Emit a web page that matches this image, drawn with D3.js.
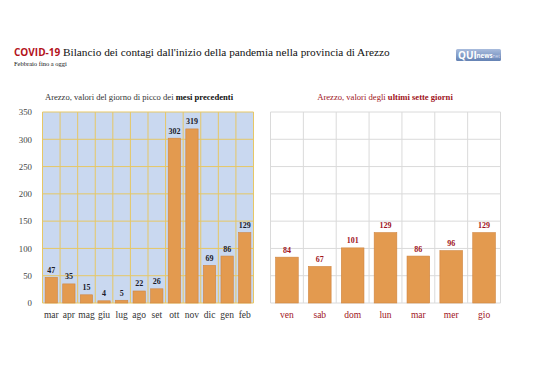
<!DOCTYPE html>
<html><head><meta charset="utf-8">
<script src="https://cdn.jsdelivr.net/npm/d3@7"></script>
<style>body{margin:0;background:#fff}svg{display:block}</style>
</head><body>
<script>
const months = ["mar","apr","mag","giu","lug","ago","set","ott","nov","dic","gen","feb"];
const monthValues = [47,35,15,4,5,22,26,302,319,69,86,129];
const days = ["ven","sab","dom","lun","mar","mer","gio"];
const dayValues = [84,67,101,129,86,96,129];
const yTicks = [0,50,100,150,200,250,300,350];

const W=538,H=380;
const svg=d3.select("body").append("svg").attr("width",W).attr("height",H);
svg.append("rect").attr("width",W).attr("height",H).attr("fill","#fff");
const serif="'Liberation Serif','DejaVu Serif',serif";

// Title
const t=svg.append("text").attr("x",14).attr("y",56).attr("font-family",serif).attr("font-size",11.3).attr("fill","#111");
t.append("tspan").attr("font-family","'Open Sans',sans-serif").attr("font-weight","bold").attr("fill","#B3121B").attr("font-size",10).text("COVID-19");
t.append("tspan").text(" Bilancio dei contagi dall'inizio della pandemia nella provincia di Arezzo");
svg.append("text").attr("x",14).attr("y",66).attr("font-family",serif).attr("font-size",6.5).attr("fill","#111").text("Febbraio fino a oggi");

// Logo
const lg=svg.append("g").attr("transform","translate(456,49)");
const grad=svg.append("defs").append("linearGradient").attr("id","lgg").attr("x1",0).attr("y1",0).attr("x2",0).attr("y2",1);
grad.append("stop").attr("offset","0%").attr("stop-color","#A9BCDD");
grad.append("stop").attr("offset","100%").attr("stop-color","#6482B4");
lg.append("rect").attr("width",45).attr("height",12).attr("rx",1.5).attr("fill","url(#lgg)");
lg.append("text").attr("x",2).attr("y",10).attr("font-family","'Open Sans',sans-serif").attr("font-weight","bold").attr("font-size",10).attr("fill","#fff").text("QUI");
lg.append("text").attr("x",20.5).attr("y",9.3).attr("font-family","'Open Sans',sans-serif").attr("font-weight","bold").attr("font-size",6.2).attr("fill","#fff").text("news");
lg.append("text").attr("x",36.5).attr("y",9.3).attr("font-family","'Open Sans',sans-serif").attr("font-size",5).attr("fill","#d5def0").text("net");

const y=d3.scaleLinear().domain([0,350]).range([303,112]);

// Left chart
const x1=d3.scaleBand().domain(months).range([42.5,253.5]).paddingInner(0.3).paddingOuter(0.15);
const L=svg.append("g");
L.append("rect").attr("x",42.5).attr("y",y(350)).attr("width",211).attr("height",y(0)-y(350)).attr("fill","#C9D8F0");
const step1=x1.step();
L.selectAll("line.v").data(d3.range(months.length+1)).join("line")
 .attr("x1",i=>42.5+i*step1).attr("x2",i=>42.5+i*step1).attr("y1",y(350)).attr("y2",y(0))
 .attr("stroke","#E6C766").attr("stroke-width",1);
L.selectAll("line.h").data(yTicks).join("line")
 .attr("x1",42.5).attr("x2",253.5).attr("y1",d=>y(d)).attr("y2",d=>y(d))
 .attr("stroke","#E6C766").attr("stroke-width",1);
L.selectAll("rect.bar").data(monthValues).join("rect")
 .attr("x",(d,i)=>x1(months[i])).attr("width",x1.bandwidth())
 .attr("y",d=>y(d)).attr("height",d=>y(0)-y(d))
 .attr("fill","#E39A4F").attr("stroke","#CF8540").attr("stroke-width",0.6);
L.selectAll("text.val").data(monthValues).join("text")
 .attr("x",(d,i)=>x1(months[i])+x1.bandwidth()/2).attr("y",d=>y(d)-4.5)
 .attr("text-anchor","middle").attr("font-family",serif).attr("font-weight","bold").attr("font-size",8).attr("fill","#1b1b2a").text(d=>d);
const ya=L.append("g").attr("transform","translate(32,0)").call(d3.axisLeft(y).tickValues(yTicks).tickSize(0));
ya.select(".domain").remove();
ya.selectAll("text").attr("font-family",serif).attr("font-size",8.8).attr("fill","#444").attr("x",0).attr("dy","0.32em");
const xa=L.append("g").attr("transform","translate(0,303)").call(d3.axisBottom(x1).tickSize(0));
xa.select(".domain").remove();
xa.selectAll("text").attr("font-family",serif).attr("font-size",9.5).attr("fill","#333").attr("y",8);
const lt=L.append("text").attr("x",139).attr("y",100).attr("text-anchor","middle").attr("font-family",serif).attr("font-size",8.6).attr("fill","#333");
lt.append("tspan").text("Arezzo, valori del giorno di picco dei ");
lt.append("tspan").attr("font-weight","bold").attr("fill","#111").text("mesi precedenti");

// Right chart
const x2=d3.scaleBand().domain(days).range([270.5,500.5]).paddingInner(0.31).paddingOuter(0.155);
const R=svg.append("g");
const step2=x2.step();
R.selectAll("line.v").data(d3.range(days.length+1)).join("line")
 .attr("x1",i=>270.5+i*step2).attr("x2",i=>270.5+i*step2).attr("y1",y(350)).attr("y2",y(0))
 .attr("stroke","#DADADA").attr("stroke-width",1);
R.selectAll("line.h").data(yTicks).join("line")
 .attr("x1",270.5).attr("x2",500.5).attr("y1",d=>y(d)).attr("y2",d=>y(d))
 .attr("stroke","#DADADA").attr("stroke-width",1);
R.selectAll("rect.bar").data(dayValues).join("rect")
 .attr("x",(d,i)=>x2(days[i])).attr("width",x2.bandwidth())
 .attr("y",d=>y(d)).attr("height",d=>y(0)-y(d))
 .attr("fill","#E39A4F").attr("stroke","#CF8540").attr("stroke-width",0.6);
R.selectAll("text.val").data(dayValues).join("text")
 .attr("x",(d,i)=>x2(days[i])+x2.bandwidth()/2).attr("y",d=>y(d)-4.5)
 .attr("text-anchor","middle").attr("font-family",serif).attr("font-weight","bold").attr("font-size",8).attr("fill","#A0141C").text(d=>d);
const xb=R.append("g").attr("transform","translate(0,303)").call(d3.axisBottom(x2).tickSize(0));
xb.select(".domain").remove();
xb.selectAll("text").attr("font-family",serif).attr("font-size",9.5).attr("fill","#A0141C").attr("y",8);
const rt=R.append("text").attr("x",385).attr("y",100).attr("text-anchor","middle").attr("font-family",serif).attr("font-size",8.6).attr("fill","#A0141C");
rt.append("tspan").text("Arezzo, valori degli ");
rt.append("tspan").attr("font-weight","bold").text("ultimi sette giorni");
</script>
</body></html>
